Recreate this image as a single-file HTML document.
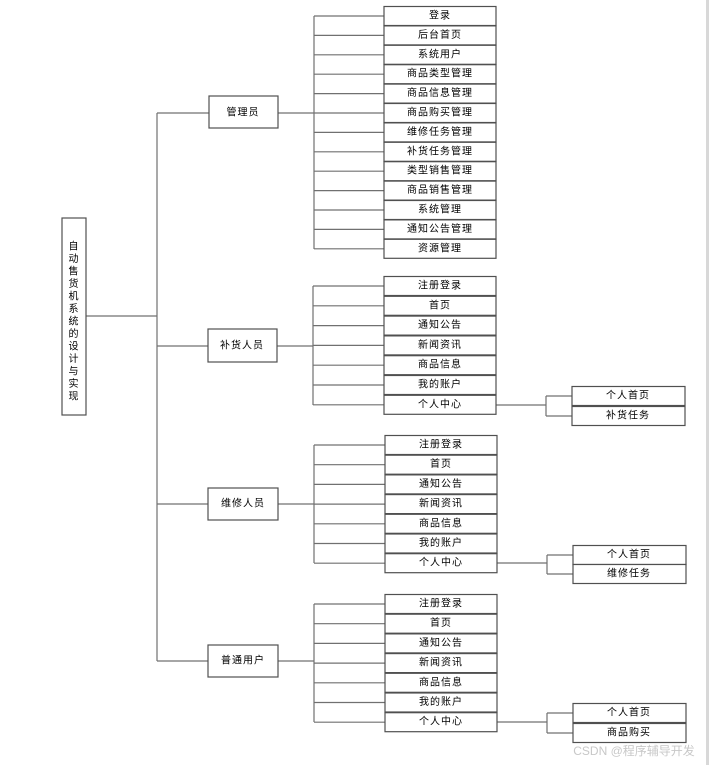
<!DOCTYPE html>
<html><head><meta charset="utf-8"><style>
html,body{margin:0;padding:0;background:#fff;width:709px;height:765px;overflow:hidden}
svg text{font-family:"Liberation Sans","WenQuanYi Zen Hei","Noto Sans CJK SC",sans-serif;font-size:10px;fill:#000;text-anchor:middle;dominant-baseline:central;letter-spacing:1px}
</style></head><body>
<svg width="709" height="765" xmlns="http://www.w3.org/2000/svg">
<rect x="706" y="0" width="3" height="765" fill="#d8d8d8"/>
<g stroke="#707070" stroke-width="1.2" fill="none">
<path d="M86 316H157M157 113V661M157 113H209M157 346H208M157 504H208M157 661H208"/>
<path d="M278 113H314M314 16V249M314 16H384M314 35.4H384M314 54.8H384M314 74.2H384M314 93.6H384M314 113H384M314 132.4H384M314 151.8H384M314 171.2H384M314 190.6H384M314 210H384M314 229.4H384M314 248.8H384"/>
<path d="M277 346H313M313 286V405M313 286H384M313 305.8H384M313 325.6H384M313 345.4H384M313 365.2H384M313 385H384M313 404.8H384M496 405H546M546 396V416M546 396H572M546 416H572"/>
<path d="M278 504H314M314 445V563M314 445H385M314 464.7H385M314 484.4H385M314 504.1H385M314 523.8H385M314 543.5H385M314 563.2H385M497 563H547M547 555V574M547 555H573M547 574H573"/>
<path d="M278 661H314M314 604V722M314 604H385M314 623.7H385M314 643.4H385M314 663.1H385M314 682.8H385M314 702.5H385M314 722.2H385M497 722H547M547 713V733M547 713H573M547 733H573"/>
</g>
<g stroke="#505050" stroke-width="1.2" fill="#fff">
<rect x="62" y="218" width="24" height="197"/>
<rect x="209" y="96" width="69" height="32"/>
<rect x="208" y="329" width="69" height="33"/>
<rect x="208" y="488" width="70" height="32"/>
<rect x="208" y="645" width="70" height="32"/>
<rect x="384" y="6.5" width="112" height="19"/><rect x="384" y="25.9" width="112" height="19"/><rect x="384" y="45.3" width="112" height="19"/><rect x="384" y="64.7" width="112" height="19"/><rect x="384" y="84.1" width="112" height="19"/><rect x="384" y="103.5" width="112" height="19"/><rect x="384" y="122.9" width="112" height="19"/><rect x="384" y="142.3" width="112" height="19"/><rect x="384" y="161.7" width="112" height="19"/><rect x="384" y="181.1" width="112" height="19"/><rect x="384" y="200.5" width="112" height="19"/><rect x="384" y="219.9" width="112" height="19"/><rect x="384" y="239.3" width="112" height="19"/>
<rect x="384" y="276.5" width="112" height="19"/><rect x="384" y="296.3" width="112" height="19"/><rect x="384" y="316.1" width="112" height="19"/><rect x="384" y="335.9" width="112" height="19"/><rect x="384" y="355.7" width="112" height="19"/><rect x="384" y="375.5" width="112" height="19"/><rect x="384" y="395.3" width="112" height="19"/>
<rect x="572" y="386.5" width="113" height="19"/><rect x="572" y="406.5" width="113" height="19"/>
<rect x="385" y="435.5" width="112" height="19"/><rect x="385" y="455.2" width="112" height="19"/><rect x="385" y="474.9" width="112" height="19"/><rect x="385" y="494.6" width="112" height="19"/><rect x="385" y="514.3" width="112" height="19"/><rect x="385" y="534" width="112" height="19"/><rect x="385" y="553.7" width="112" height="19"/>
<rect x="573" y="545.5" width="113" height="19"/><rect x="573" y="564.5" width="113" height="19"/>
<rect x="385" y="594.5" width="112" height="19"/><rect x="385" y="614.2" width="112" height="19"/><rect x="385" y="633.9" width="112" height="19"/><rect x="385" y="653.6" width="112" height="19"/><rect x="385" y="673.3" width="112" height="19"/><rect x="385" y="693" width="112" height="19"/><rect x="385" y="712.7" width="112" height="19"/>
<rect x="573" y="703.5" width="113" height="19"/><rect x="573" y="723.5" width="113" height="19"/>
</g>
<g>
<text x="74" y="247">自</text><text x="74" y="259.5">动</text><text x="74" y="272">售</text><text x="74" y="284.5">货</text><text x="74" y="297">机</text><text x="74" y="309.5">系</text><text x="74" y="322">统</text><text x="74" y="334.5">的</text><text x="74" y="347">设</text><text x="74" y="359.5">计</text><text x="74" y="372">与</text><text x="74" y="384.5">实</text><text x="74" y="397">现</text>
<text x="243" y="113">管理员</text><text x="242" y="346">补货人员</text><text x="243" y="504">维修人员</text><text x="243" y="661">普通用户</text>
<text x="440" y="16">登录</text><text x="440" y="35.4">后台首页</text><text x="440" y="54.8">系统用户</text><text x="440" y="74.2">商品类型管理</text><text x="440" y="93.6">商品信息管理</text><text x="440" y="113">商品购买管理</text><text x="440" y="132.4">维修任务管理</text><text x="440" y="151.8">补货任务管理</text><text x="440" y="171.2">类型销售管理</text><text x="440" y="190.6">商品销售管理</text><text x="440" y="210">系统管理</text><text x="440" y="229.4">通知公告管理</text><text x="440" y="248.8">资源管理</text>
<text x="440" y="286">注册登录</text><text x="440" y="305.8">首页</text><text x="440" y="325.6">通知公告</text><text x="440" y="345.4">新闻资讯</text><text x="440" y="365.2">商品信息</text><text x="440" y="385">我的账户</text><text x="440" y="404.8">个人中心</text>
<text x="628" y="396">个人首页</text><text x="628" y="416">补货任务</text>
<text x="441" y="445">注册登录</text><text x="441" y="464.7">首页</text><text x="441" y="484.4">通知公告</text><text x="441" y="504.1">新闻资讯</text><text x="441" y="523.8">商品信息</text><text x="441" y="543.5">我的账户</text><text x="441" y="563.2">个人中心</text>
<text x="629" y="555">个人首页</text><text x="629" y="574">维修任务</text>
<text x="441" y="604">注册登录</text><text x="441" y="623.7">首页</text><text x="441" y="643.4">通知公告</text><text x="441" y="663.1">新闻资讯</text><text x="441" y="682.8">商品信息</text><text x="441" y="702.5">我的账户</text><text x="441" y="722.2">个人中心</text>
<text x="629" y="713">个人首页</text><text x="629" y="733">商品购买</text>
</g>
<text x="634" y="751" style="font-size:12px;fill:#c8c8c8;letter-spacing:0">CSDN @程序辅导开发</text>
</svg>
</body></html>
